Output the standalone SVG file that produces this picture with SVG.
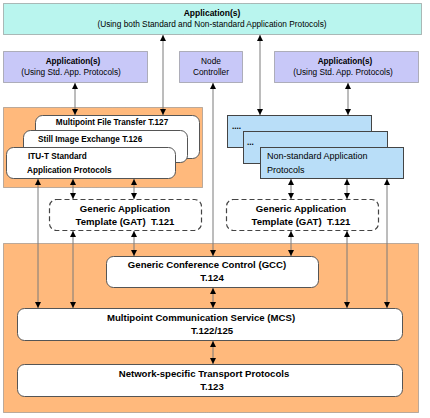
<svg xmlns="http://www.w3.org/2000/svg" width="430" height="418" viewBox="0 0 430 418">
<defs>
<marker id="ah" viewBox="0 0 6 6" refX="6" refY="3" markerWidth="6" markerHeight="6" orient="auto-start-reverse" markerUnits="userSpaceOnUse">
<path d="M0,0 L6,3 L0,6 z" fill="#000"/>
</marker>
<style>
text{font-family:"Liberation Sans",Arial,sans-serif;fill:#000}
.r{font-size:8.3px}
.b{font-size:8.2px;font-weight:bold}
.n{font-size:9px}
.g{font-size:9.6px;font-weight:bold;white-space:pre}
.m{font-size:9.6px;font-weight:bold}
.cy{fill:#b9f5ee;stroke:#777;stroke-width:1;stroke-dasharray:1 1}
.pu{fill:#c8c8f8;stroke:#777;stroke-width:1;stroke-dasharray:1 1}
.or{fill:#ffb97c;stroke:#777;stroke-width:1;stroke-dasharray:1 1}
.wh{fill:#fff;stroke:#555;stroke-width:1}
.bl{fill:#b9def8;stroke:#444;stroke-width:1}
.da{fill:#fff;stroke:#444;stroke-width:1.2;stroke-dasharray:5 3}
.c line{stroke:#7a7a7a;stroke-width:1}
.bi{marker-start:url(#ah);marker-end:url(#ah)}
</style>
</defs>
<g id="top-app"><rect class="cy" x="3.5" y="3.5" width="418" height="31"/>
<text class="b" x="212" y="16" text-anchor="middle" style="font-size:8.5px">Application(s)</text>
<text class="r" x="212" y="27" text-anchor="middle">(Using both Standard and Non-standard Application Protocols)</text></g>
<g id="app-left"><rect class="pu" x="3.5" y="51.5" width="144" height="31"/>
<text class="b" x="73" y="64" text-anchor="middle">Application(s)</text>
<text class="r" x="71" y="75" text-anchor="middle">(Using Std. App. Protocols)</text></g>
<g id="node-controller"><rect class="pu" x="179.5" y="51.5" width="63" height="31"/>
<text class="r" x="211" y="64" text-anchor="middle">Node</text>
<text class="r" x="211" y="75" text-anchor="middle">Controller</text></g>
<g id="app-right"><rect class="pu" x="274.5" y="51.5" width="144" height="31"/>
<text class="b" x="345" y="64" text-anchor="middle">Application(s)</text>
<text class="r" x="343" y="75" text-anchor="middle">(Using Std. App. Protocols)</text></g>
<g id="std-protocols"><rect class="or" x="3.5" y="107.5" width="199" height="80"/>
<rect class="wh" x="35.5" y="115.5" width="164" height="43" rx="7"/>
<text class="b" x="112" y="125" text-anchor="middle">Multipoint File Transfer T.127</text>
<rect class="wh" x="23.5" y="130.5" width="164" height="32" rx="7"/>
<text class="b" x="38" y="142">Still Image Exchange T.126</text>
<rect class="wh" x="6.5" y="147.5" width="169" height="31" rx="7"/>
<text class="b" x="28" y="159">ITU-T Standard</text>
<text class="b" x="27" y="173">Application Protocols</text></g>
<g id="nonstd-protocols">
<rect class="bl" x="227.5" y="115.5" width="144" height="32"/>
<text class="b" x="232" y="129">....</text>
<rect class="bl" x="243.5" y="131.5" width="144" height="32"/>
<text class="b" x="247" y="145">...</text>
<rect class="bl" x="260.5" y="147.5" width="143" height="31"/>
<text class="n" x="267" y="159">Non-standard Application</text>
<text class="n" x="267" y="173">Protocols</text></g>
<g id="gat-left"><rect class="da" x="49.5" y="199.5" width="152" height="31" rx="7"/>
<text class="g" x="125" y="212" text-anchor="middle">Generic Application</text>
<text class="g" x="125" y="225" text-anchor="middle" xml:space="preserve">Template (GAT)  T.121</text></g>
<g id="gat-right"><rect class="da" x="226.5" y="199.5" width="152" height="31" rx="7"/>
<text class="g" x="301" y="212" text-anchor="middle">Generic Application</text>
<text class="g" x="301" y="225" text-anchor="middle" xml:space="preserve">Template (GAT)  T.121</text></g>
<g id="infrastructure"><rect class="or" x="3.5" y="243.5" width="415" height="169"/></g>
<g id="gcc"><rect class="wh" x="106.5" y="256.5" width="212" height="31" rx="7"/>
<text class="m" x="207" y="268" text-anchor="middle">Generic Conference Control (GCC)</text>
<text class="m" x="212" y="281" text-anchor="middle">T.124</text></g>
<g id="mcs"><rect class="wh" x="17.5" y="308.5" width="385" height="32" rx="7"/>
<text class="m" x="201" y="321" text-anchor="middle">Multipoint Communication Service (MCS)</text>
<text class="m" x="212" y="334" text-anchor="middle">T.122/125</text></g>
<g id="transport"><rect class="wh" x="17.5" y="364.5" width="385" height="32" rx="7"/>
<text class="m" x="204" y="377" text-anchor="middle">Network-specific Transport Protocols</text>
<text class="m" x="212" y="390" text-anchor="middle">T.123</text></g>
<g class="c" id="connectors">
<line class="bi" x1="163" y1="35" x2="163" y2="115"/>
<line class="bi" x1="260" y1="35" x2="260" y2="115"/>
<line class="bi" x1="75" y1="83" x2="75" y2="115"/>
<line class="bi" x1="348" y1="83" x2="348" y2="115"/>
<line class="bi" x1="213" y1="83" x2="213" y2="256"/>
<line class="bi" x1="38" y1="179" x2="38" y2="308"/>
<line class="bi" x1="73" y1="179" x2="73" y2="199"/>
<line class="bi" x1="134" y1="179" x2="134" y2="199"/>
<line class="bi" x1="291" y1="179" x2="291" y2="199"/>
<line class="bi" x1="347" y1="179" x2="347" y2="199"/>
<line class="bi" x1="387" y1="179" x2="387" y2="308"/>
<line class="bi" x1="73" y1="231" x2="73" y2="308"/>
<line class="bi" x1="134" y1="231" x2="134" y2="256"/>
<line class="bi" x1="291" y1="231" x2="291" y2="256"/>
<line class="bi" x1="347" y1="231" x2="347" y2="308"/>
<line class="bi" x1="213" y1="288" x2="213" y2="308"/>
<line class="bi" x1="213" y1="341" x2="213" y2="364"/>
</g>
</svg>
